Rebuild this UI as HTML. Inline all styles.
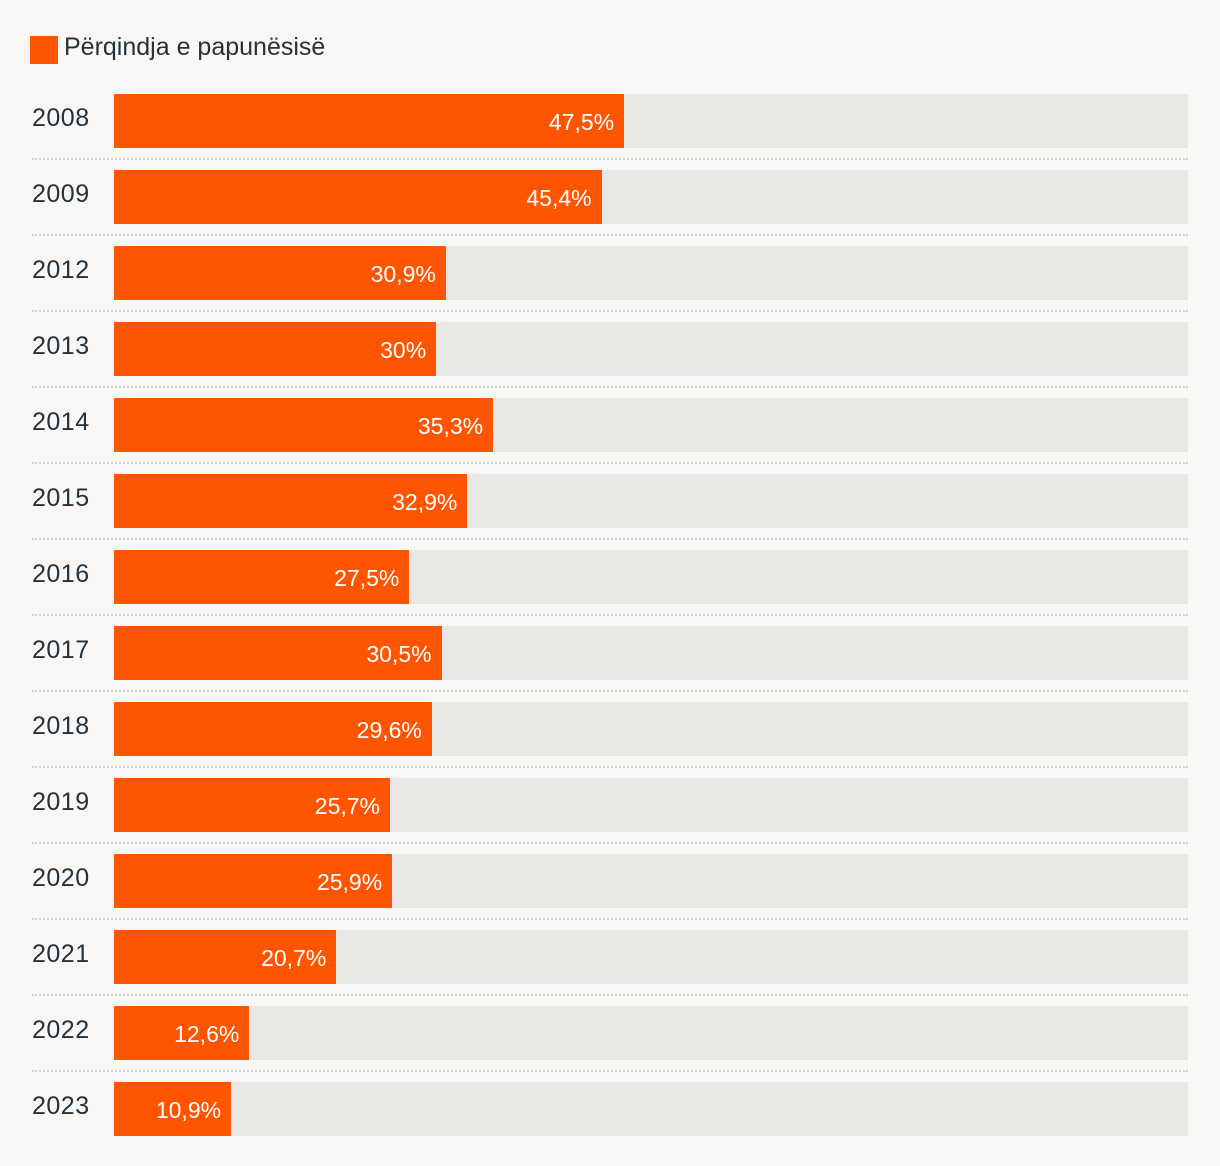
<!DOCTYPE html>
<html><head><meta charset="utf-8"><style>
body{margin:0;background:#f8f7f5;font-family:"Liberation Sans",sans-serif;}
#c{position:relative;width:1220px;height:1166px;overflow:hidden;}
.abs{position:absolute;}
</style></head><body>
<div id="c">
  <div class="abs" style="left:30px;top:36px;width:28px;height:28px;background:#ff5500"></div>
  <div class="abs" style="left:64px;top:33px;font-size:25px;color:#22323f;line-height:28px">Përqindja e papunësisë</div>
</div>
<script>
const years=["2008","2009","2012","2013","2014","2015","2016","2017","2018","2019","2020","2021","2022","2023"];
const values=[47.5,45.4,30.9,30,35.3,32.9,27.5,30.5,29.6,25.7,25.9,20.7,12.6,10.9];
const labels=["47,5%","45,4%","30,9%","30%","35,3%","32,9%","27,5%","30,5%","29,6%","25,7%","25,9%","20,7%","12,6%","10,9%"];
const c=document.getElementById('c');
const x0=114,trackW=1074,top0=94,pitch=76,bh=54;
function xs(v){return v/100*trackW;}
years.forEach((y,i)=>{
  const t=top0+i*pitch;
  const lab=document.createElement('div');
  
  
  lab.className='abs';
  lab.style.cssText=`left:32px;top:${t}px;height:${bh-6}px;line-height:${bh-6}px;font-size:25px;color:#22323f;letter-spacing:0.5px`;
  lab.textContent=y;c.appendChild(lab);
  const tr=document.createElement('div');
  
  
  tr.className='abs';
  tr.style.cssText=`left:${x0}px;top:${t}px;width:${trackW}px;height:${bh}px;background:#e9e7e4`;
  c.appendChild(tr);
  const b=document.createElement('div');
  
  
  b.className='abs';
  b.style.cssText=`left:${x0}px;top:${t}px;width:${xs(values[i])}px;height:${bh}px;background:#ff5500;color:#fff;font-size:23px;line-height:${bh+2}px;text-align:right;box-sizing:border-box;padding-right:10px;white-space:nowrap`;
  b.textContent=labels[i];c.appendChild(b);
  if(i<years.length-1){
    const s=document.createElement('div');
    
    
    s.className='abs';
    s.style.cssText=`left:32px;top:${t+bh+10}px;width:1156px;height:0;border-top:2px dotted #d4d2cf`;
    c.appendChild(s);
  }
});
</script>
</body></html>
